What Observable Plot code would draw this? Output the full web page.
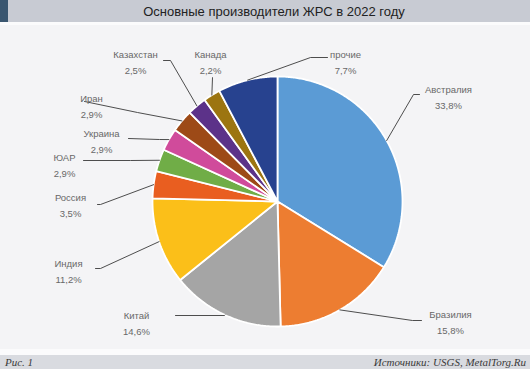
<!DOCTYPE html>
<html><head><meta charset="utf-8">
<script src="https://cdn.jsdelivr.net/npm/d3@7"></script>
<script src="https://cdn.jsdelivr.net/npm/@observablehq/plot@0.6"></script>
<style>
body{margin:0;background:#f4f4f6;}
#wrap{width:530px;height:369px;position:relative;background:#f4f4f6;overflow:hidden;}
#title{height:22px;background:#c8cbd3;position:relative;font:13px "Liberation Sans",Arial,sans-serif;color:#222;text-align:center;line-height:23px;padding-left:18px;box-sizing:border-box;}
#title .blk{position:absolute;left:0;top:0;width:8px;height:22px;background:#3a5670;}
#strip1{height:3px;background:#fbfbfc;}
#chart{height:324px;}
#chart svg{display:block;}
#strip2{height:6px;background:#fbfbfc;}
#footer{height:14px;background:#d9dbe0;font:italic 11px "Liberation Serif","Times New Roman",serif;color:#3a3a3a;position:relative;line-height:14px;}
#footer .l{position:absolute;left:5px;top:0;}
#footer .r{position:absolute;right:4px;top:0;}
</style></head>
<body>
<div id="wrap">
  <div id="title"><div class="blk"></div>Основные производители ЖРС в 2022 году</div>
  <div id="strip1"></div>
  <div id="chart"></div>
  <div id="strip2"></div>
  <div id="footer"><span class="l">Рис. 1</span><span class="r">Источники: USGS, MetalTorg.Ru</span></div>
</div>
<script>
// ---- data ----
const countries = ["Австралия","Бразилия","Китай","Индия","Россия","ЮАР","Украина","Иран","Казахстан","Канада","прочие"];
const shares = [33.8, 15.8, 14.6, 11.2, 3.5, 2.9, 2.9, 2.9, 2.5, 2.2, 7.7];
const colors = ["#5b9bd5","#ed7d31","#a5a5a5","#fbbf19","#e95e20","#70ad47","#d04b9b","#9d4a17","#5c3289","#9c7511","#27428f"];

// ---- layout (pixel offsets from pie centre, y down) ----
const R = 125;
const elbows = [[136,-107],[135,119],[-53,114],[-177,67],[-177,3],[-147,-41],[-118,-62],[-140,-89],[-107,-141],[-65,-124],[33,-144]];
const ends   = [[142,-107],[144,119],[-102,114],[-182,67],[-180,3],[-194,-41],[-149,-63],[-193,-100],[-114,-141],[-65,-124],[50,-144]];
const textAt = [[171,-106],[173,119],[-141,120],[-209,68],[-207,2],[-213,-38],[-176,-62],[-186,-97],[-142,-141],[-67,-141],[68,-141]];

const W = 530, H = 324, cx = 277, cy = 176;

const pie = d3.pie().sort(null).value(d => d.share).startAngle(0).endAngle(2*Math.PI);
const rows = countries.map((name,i) => ({name, share: shares[i], label: shares[i].toFixed(1).replace(".", ",") + "%"}));
const arcs = pie(rows);

const slicePts = [];
arcs.forEach(a => {
  const name = a.data.name;
  slicePts.push({name, x: 0, y: 0});
  const n = Math.max(2, Math.ceil((a.endAngle - a.startAngle) / 0.01));
  for (let k = 0; k <= n; k++) {
    const t = a.startAngle + (a.endAngle - a.startAngle) * k / n;
    slicePts.push({name, x: Math.sin(t), y: Math.cos(t)});
  }
});

const px = p => ({x: p[0] / R, y: -p[1] / R});
const leaderPts = [];
arcs.forEach((a,i) => {
  const m = (a.startAngle + a.endAngle) / 2;
  const name = a.data.name;
  leaderPts.push({name, x: Math.sin(m), y: Math.cos(m)});
  leaderPts.push({name, ...px(elbows[i])});
  leaderPts.push({name, ...px(ends[i])});
});
const labels = arcs.map((a,i) => ({text: a.data.name + "\n" + a.data.label, ...px(textAt[i])}));

const chart = Plot.plot({
  width: W, height: H,
  margin: 0,
  style: {background: "#f4f4f6", fontFamily: "'Liberation Sans', Arial, sans-serif"},
  x: {domain: [-cx / R, (W - cx) / R], axis: null},
  y: {domain: [-(H - cy) / R, cy / R], axis: null},
  color: {domain: countries, range: colors},
  marks: [
    Plot.line(slicePts, {x: "x", y: "y", z: "name", fill: "name", stroke: "white", strokeWidth: 1.8, curve: "linear-closed", strokeLinejoin: "miter"}),
    Plot.line(leaderPts, {x: "x", y: "y", z: "name", stroke: "#3a3a3a", strokeWidth: 0.9}),
    Plot.text(labels, {x: "x", y: "y", text: "text", fill: "#686868", fontSize: 9.5, lineHeight: 1.68, lineAnchor: "middle", textAnchor: "middle"})
  ]
});
document.getElementById("chart").appendChild(chart);
</script>
</body></html>
